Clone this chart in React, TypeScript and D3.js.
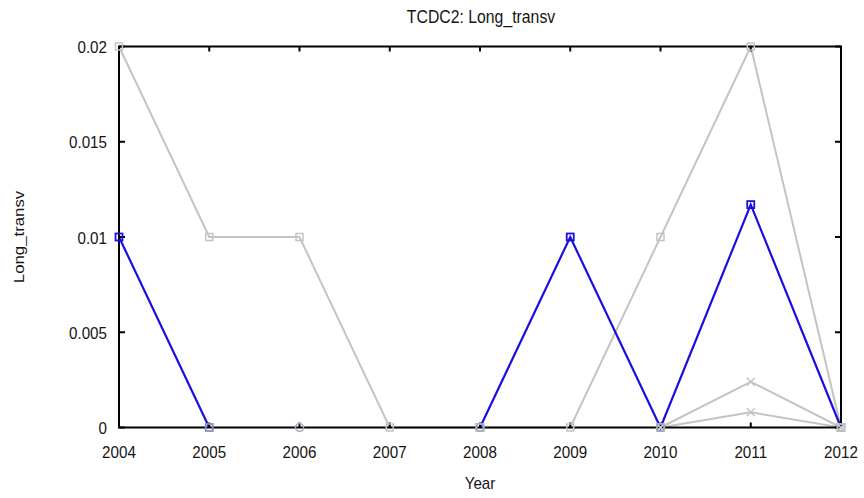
import React from "react";
import * as d3 from "d3";

const years = [2004, 2005, 2006, 2007, 2008, 2009, 2010, 2011, 2012];
const yTicks = [0, 0.005, 0.01, 0.015, 0.02];
const yTickLabels = ["0", "0.005", "0.01", "0.015", "0.02"];
const blueSeries: (number | null)[] = [0.01, 0, null, null, 0, 0.01, 0, 0.0117, 0];
const grayA: (number | null)[] = [0.02, 0.01, 0.01, 0, 0, 0, 0.01, 0.02, 0];
const grayB: (number | null)[] = [null, null, null, null, null, null, 0, 0.0024, 0];
const grayC: (number | null)[] = [null, null, null, null, null, null, 0, 0.0008, 0];
const grayD: (number | null)[] = [null, null, 0, null, 0, null, 0, null, null];

const W = 864;
const H = 498;
const L = 119, R = 841, T = 46.5, B = 427.5;
const FONT = "'Liberation Sans', Arial, sans-serif";
const SY = 1.12;

function Txt({ x, y, size, anchor, children, rotate }: any) {
  const tr = `translate(${x},${y})` + (rotate ? ` rotate(${rotate})` : "") + (rotate ? ` scale(${SY},1)` : ` scale(1,${SY})`);
  return (
    <text transform={tr} textAnchor={anchor} fontFamily={FONT} fontSize={size} fill="#151515">
      {children}
    </text>
  );
}

export default function App() {
  const x = d3.scaleLinear().domain([2004, 2012]).range([L, R]);
  const y = d3.scaleLinear().domain([0, 0.02]).range([B, T]);
  const line = d3
    .line<number | null>()
    .defined((d) => d !== null)
    .x((_, i) => x(years[i]))
    .y((d) => y(d as number));

  const gray = "#c4c4c4";
  const blue = "#1a0fe0";

  const pts = (s: (number | null)[]) =>
    s.map((v, i) => ({ v, yr: years[i] })).filter((p) => p.v !== null) as { v: number; yr: number }[];

  return (
    <svg width={W} height={H} style={{ position: "absolute", left: 0, top: 0, background: "#fff" }}>
      <rect x={0} y={0} width={W} height={H} fill="#fff" />
      {[grayA, grayB, grayC].map((s, k) => (
        <path key={k} d={line(s) || ""} fill="none" stroke={gray} strokeWidth={2} />
      ))}
      <path d={line(blueSeries) || ""} fill="none" stroke={blue} strokeWidth={2.2} />

      <rect x={L} y={T} width={R - L} height={B - T} fill="none" stroke="#000" strokeWidth={2} />
      {years.map((yr) => (
        <g key={yr}>
          <line x1={x(yr)} x2={x(yr)} y1={T} y2={T + 5} stroke="#000" strokeWidth={2} />
          <line x1={x(yr)} x2={x(yr)} y1={B} y2={B - 5} stroke="#000" strokeWidth={2} />
        </g>
      ))}
      {yTicks.map((t) => (
        <g key={t}>
          <line x1={L} x2={L + 6} y1={y(t)} y2={y(t)} stroke="#000" strokeWidth={2} />
          <line x1={R} x2={R - 6} y1={y(t)} y2={y(t)} stroke="#000" strokeWidth={2} />
        </g>
      ))}

      {pts(blueSeries).map((p, i) => (
        <rect key={"bl" + i} x={x(p.yr) - 3.5} y={y(p.v) - 3.5} width={7} height={7} fill="none"
          stroke={p.v === 0 ? "#8c8cc8" : blue} strokeWidth={1.8} />
      ))}
      {pts(grayA).map((p, i) => (
        <rect key={"a" + i} x={x(p.yr) - 3.5} y={y(p.v) - 3.5} width={7} height={7} fill="none" stroke={gray} strokeWidth={1.5} />
      ))}
      {[grayB, grayC].map((s, k) =>
        pts(s).map((p, i) => (
          <path key={"x" + k + i} d={`M${x(p.yr) - 4},${y(p.v) - 4}L${x(p.yr) + 4},${y(p.v) + 4}M${x(p.yr) - 4},${y(p.v) + 4}L${x(p.yr) + 4},${y(p.v) - 4}`} stroke={gray} strokeWidth={1.5} />
        ))
      )}
      {pts(grayD).map((p, i) => (
        <circle key={"d" + i} cx={x(p.yr)} cy={y(p.v)} r={4} fill="none" stroke="#a8a8b8" strokeWidth={1.5} />
      ))}

      {years.map((yr) => (
        <Txt key={yr} x={x(yr)} y={457.5} size={15.2} anchor="middle">{yr}</Txt>
      ))}
      {yTicks.map((t, i) => (
        <Txt key={t} x={107} y={y(t) + 6.5} size={15.2} anchor="end">{yTickLabels[i]}</Txt>
      ))}

      <Txt x={(L + R) / 2 + 1} y={23} size={15.8} anchor="middle">TCDC2: Long_transv</Txt>
      <Txt x={(L + R) / 2} y={489} size={15.2} anchor="middle">Year</Txt>
      <Txt x={24} y={(T + B) / 2} size={15} anchor="middle" rotate={-90}>Long_transv</Txt>
    </svg>
  );
}
